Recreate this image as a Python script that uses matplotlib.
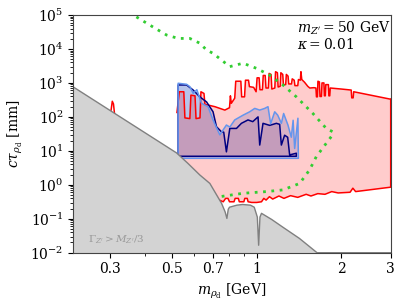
import numpy as np
import matplotlib
matplotlib.use("Agg")
import matplotlib.pyplot as plt
from matplotlib.ticker import FixedLocator, NullFormatter, LogLocator

plt.rcParams['font.family'] = ['DejaVu Serif']
plt.rcParams['mathtext.fontset'] = 'dejavuserif'
plt.rcParams['font.size'] = 10

# ---- data (mass in GeV, log10(c tau / mm)) ----
gray_m = [0.2223, 0.518, 0.569, 0.627, 0.681, 0.720, 0.750, 0.772, 0.783, 0.792, 0.80, 0.85, 0.89, 0.95, 0.98, 1.005,
          1.016, 1.027, 1.04, 1.13, 1.24, 1.42, 1.64, 3.1]
gray_log = [2.88, 0.94, 0.63, 0.29, 0.04, -0.30, -0.55, -0.80, -0.99, -0.72, -0.66, -0.60, -0.58, -0.60, -0.66, -0.95,
            -1.78, -0.95, -0.84, -1.02, -1.25, -1.58, -2.0, -2.0]

red_up_m = [0.520, 0.530, 0.550, 0.555, 0.578, 0.583, 0.603, 0.608, 0.628, 0.633, 0.649, 0.654, 0.710, 0.770, 0.800,
            0.806, 0.812, 0.835, 0.842, 0.878, 0.884, 0.905, 0.912, 0.935, 0.942, 0.975, 0.995, 1.003, 1.020, 1.027,
            1.048, 1.055, 1.072, 1.079, 1.100, 1.107, 1.125, 1.132, 1.160, 1.167, 1.185, 1.192, 1.212, 1.219, 1.238,
            1.245, 1.268, 1.275, 1.293, 1.300, 1.330, 1.338, 1.360, 1.368, 1.400, 1.408, 1.430, 1.437, 1.447, 1.480,
            1.520, 1.545, 1.600, 1.625, 1.632, 1.645, 1.652, 1.672, 1.680, 1.700, 1.708, 1.735, 1.742, 1.755, 1.762,
            1.800, 1.807, 1.820, 1.828, 2.000, 2.170, 2.180, 2.205, 2.215, 3.000]
red_up_log = [2.13, 2.74, 2.74, 1.97, 1.95, 2.64, 2.62, 1.95, 1.97, 2.74, 2.69, 2.37, 2.30, 2.20, 2.27,
              2.62, 2.40, 2.55, 3.05, 3.05, 2.59, 2.59, 3.08, 3.08, 2.89, 2.87, 2.74, 3.15, 3.15, 2.80,
              2.80, 3.22, 3.22, 2.85, 2.85, 3.28, 3.25, 2.82, 2.85, 3.33, 3.30, 2.88, 2.90, 3.30, 3.25,
              2.95, 2.95, 3.25, 3.20, 2.97, 2.97, 3.12, 3.08, 2.92, 2.92, 3.10, 3.08, 3.33, 3.10, 3.02,
              2.90, 2.85, 2.86, 2.85, 2.59, 2.59, 3.05, 3.03, 2.60, 2.60, 3.00, 3.00, 2.62, 2.62, 2.95,
              2.95, 2.62, 2.62, 2.85, 2.82, 2.79, 2.56, 2.56, 2.74, 2.52]

red_lo_m = [0.520, 0.715, 0.730, 0.745, 0.760, 0.775, 0.790, 0.800, 0.830, 0.838, 0.860, 0.867, 0.900, 0.907, 0.925,
            0.932, 0.960, 1.000, 1.040, 1.060, 1.080, 1.110, 1.140, 1.200, 1.250, 1.320, 1.400, 1.500, 1.560, 1.650,
            1.750, 1.850, 1.950, 2.150, 2.200, 2.250, 3.000]
red_lo_log = [-0.60, -0.47, -0.44, -0.47, -0.50, -0.40, -0.40, -0.50, -0.50, -0.40, -0.40, -0.50, -0.50, -0.40, -0.40,
              -0.50, -0.52, -0.52, -0.50, -0.40, -0.45, -0.35, -0.42, -0.33, -0.40, -0.32, -0.37, -0.28, -0.33, -0.26,
              -0.28, -0.20, -0.24, -0.22, -0.10, -0.20, -0.07]

red_spike_m = [0.300, 0.303, 0.306, 0.309, 0.312]
red_spike_log = [2.13, 2.20, 2.46, 2.38, 2.05]

lb_m = [0.525, 0.5625, 0.578, 0.594, 0.612, 0.636, 0.671, 0.699, 0.739, 0.780, 0.802, 0.835, 0.894, 0.944, 0.984,
        1.025, 1.068, 1.097, 1.121, 1.159, 1.188, 1.224, 1.247, 1.292, 1.328, 1.348, 1.365, 1.402, 1.407]
lb_log = [2.99, 2.96, 2.89, 2.69, 2.80, 2.40, 2.30, 1.91, 1.47, 1.76, 1.70, 1.91, 2.05, 2.15, 2.25,
          2.20, 2.25, 2.30, 1.80, 2.15, 2.05, 1.81, 2.10, 1.76, 1.40, 1.90, 1.07, 1.96, 0.78]
lb_bottom = 0.78

nv_m = [0.525, 0.5625, 0.594, 0.627, 0.663, 0.699, 0.719, 0.749, 0.763, 0.780, 0.802, 0.847, 0.882, 0.931, 0.968,
        1.011, 1.025, 1.053, 1.112, 1.175, 1.207, 1.224, 1.257, 1.289, 1.310, 1.384, 1.384]
nv_log = [2.94, 2.94, 2.79, 2.59, 2.44, 2.15, 1.71, 1.56, 1.55, 0.97, 1.66, 1.66, 1.81, 1.91, 1.86,
          2.00, 1.17, 1.81, 1.75, 1.81, 1.78, 1.17, 1.46, 1.40, 0.88, 0.93, 0.84]
nv_bottom = 0.84

green_m = [0.34, 0.3634, 0.4167, 0.4776, 0.5253, 0.5778, 0.627, 0.6627, 0.6994, 0.8018, 0.8939, 0.9975, 1.112,
           1.240, 1.384, 1.585, 1.769, 1.867, 1.843, 1.630, 1.543, 1.422, 1.240, 1.083, 0.894, 0.7387]
green_log = [5.3, 5.0, 4.70, 4.41, 4.31, 4.31, 4.17, 3.97, 3.87, 3.48, 3.58, 3.43, 3.23,
             2.94, 2.59, 2.10, 1.66, 1.56, 1.42, 0.83, 0.44, 0.04, -0.15, -0.20, -0.25, -0.35]

xticks = [0.3, 0.5, 0.7, 1, 2, 3]
xticklabels = ['0.3', '0.5', '0.7', '1', '2', '3']

# ---- figure ----
fig = plt.figure(figsize=(4.11, 3.08), dpi=100)
ax = fig.add_axes([0.1784, 0.1795, 0.7722, 0.7718])
ax.set_xscale('log')
ax.set_yscale('log')

p = lambda a: np.power(10.0, np.asarray(a))

# blue regions (drawn under the translucent red fill)
lbx = np.concatenate([[lb_m[0]], lb_m, [lb_m[0]]])
lby = np.concatenate([[p(lb_bottom)], p(lb_log), [p(lb_bottom)]])
ax.fill(lbx, lby, color='cornflowerblue', alpha=0.3, lw=0, zorder=1)
nvx = np.concatenate([[nv_m[0]], nv_m, [nv_m[0]]])
nvy = np.concatenate([[p(nv_bottom)], p(nv_log), [p(nv_bottom)]])
ax.fill(nvx, nvy, color='navy', alpha=0.12, lw=0, zorder=1)

# red region
rx = np.concatenate([red_up_m, red_lo_m[::-1]])
ry = np.concatenate([p(red_up_log), p(red_lo_log)[::-1]])
ax.fill(rx, ry, color='red', alpha=0.2, lw=0, zorder=2)
ax.plot(rx, ry, color='red', lw=1.1, zorder=3)
ax.plot(red_up_m[-1:] * 2, [p(red_up_log[-1]), p(red_lo_log[-1])], color='red', lw=1.1, zorder=3)
ax.plot(red_spike_m, p(red_spike_log), color='red', lw=1.1, zorder=3)

ax.plot(nvx, nvy, color='navy', lw=1.1, zorder=4)
ax.plot(lbx, lby, color='cornflowerblue', lw=1.1, zorder=4)

# gray region
gx = np.concatenate([gray_m, [3.1, 0.2]])
gy = np.concatenate([p(gray_log), [1e-3, 1e-3]])
ax.fill(gx, gy, color='lightgray', lw=0, zorder=5)
ax.plot(gray_m, p(gray_log), color='gray', lw=1.0, zorder=5)

# green dotted
ax.plot(green_m, p(green_log), color='limegreen', lw=2.0, ls=(0, (1, 2)), zorder=6)

ax.set_xlim(0.2223, 3.0)
ax.set_ylim(1e-2, 1e5)
ax.xaxis.set_major_locator(FixedLocator(xticks))
ax.set_xticklabels(xticklabels)
ax.xaxis.set_minor_locator(FixedLocator([0.4, 0.6, 0.8, 0.9]))
ax.xaxis.set_minor_formatter(NullFormatter())
ax.yaxis.set_major_locator(LogLocator(base=10, numticks=20))
ax.yaxis.set_minor_locator(LogLocator(base=10, subs=np.arange(2, 10), numticks=20))
ax.yaxis.set_minor_formatter(NullFormatter())
for s in ax.spines.values():
    s.set_zorder(10)
    s.set_color('#444444')

ax.set_xlabel(r'$m_{\rho_{\rm d}}$ [GeV]')
ax.set_ylabel(r'$c\tau_{\rho_{\rm d}}$ [mm]')
ax.text(0.705, 0.945, r"$m_{Z'} = 50$ GeV", transform=ax.transAxes, ha='left', va='center', zorder=11)
ax.text(0.705, 0.875, r"$\kappa = 0.01$", transform=ax.transAxes, ha='left', va='center', zorder=11)
ax.text(0.046, 0.055, r"$\Gamma_{Z'} > M_{Z'}/3$", transform=ax.transAxes, ha='left', va='center',
        color='#999999', fontsize=7.5, zorder=11)

fig.savefig('out.png', dpi=100)
